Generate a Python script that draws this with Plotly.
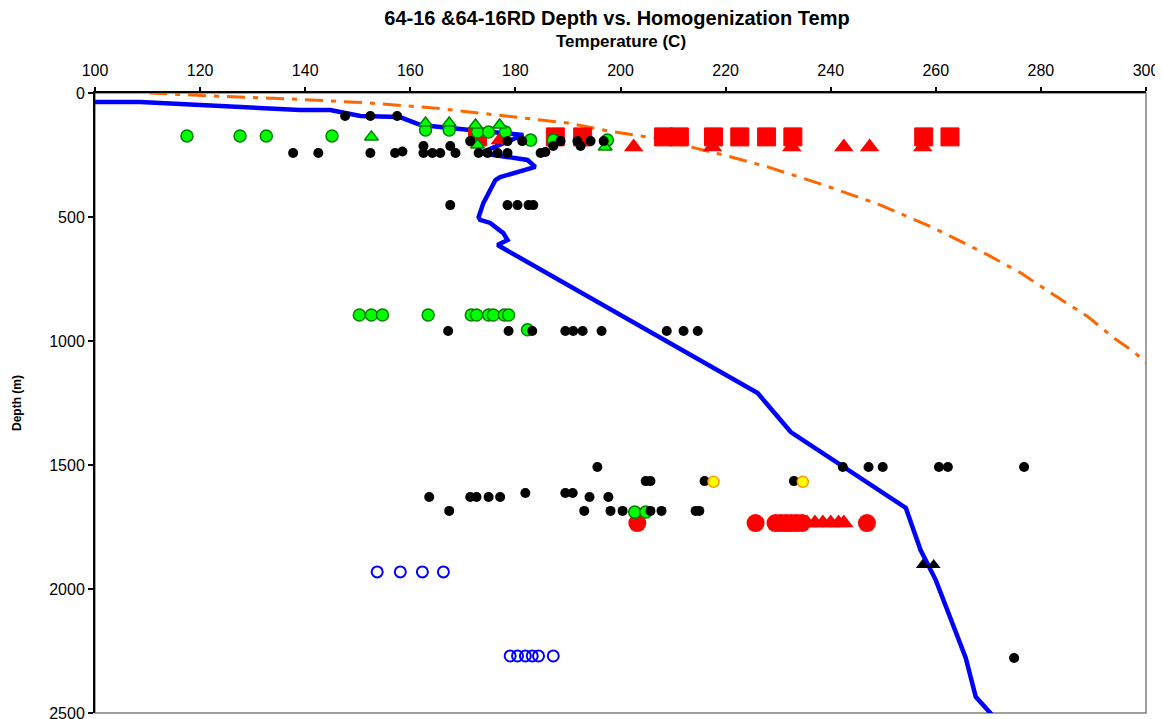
import plotly.graph_objects as go

# ---- data (temperature C, depth m) ----
profile_T = [98.7, 98.7, 108.6, 139.0, 144.8, 150.5, 158.0, 162.0, 171.4, 177.0, 181.5,
             173.3, 182.3, 183.8, 177.1, 176.2, 175.2, 173.9, 173.0, 173.3, 175.2, 177.7,
             178.5, 176.6, 226.1, 232.4, 254.3, 257.1, 260.0, 265.7, 267.6, 271.4]
profile_D = [0, 36, 36, 69, 69, 93, 97, 129, 149, 160, 169,
             242, 270, 298, 339, 351, 391, 444, 500, 512, 524, 565,
             593, 613, 1210, 1367, 1673, 1843, 1964, 2278, 2435, 2524]

boil_T = [110.3, 122.1, 137.3, 152.0, 164.4, 179.6, 189.9, 197.7, 206.3, 219.6, 228.0,
          238.7, 249.5, 259.6, 269.9, 276.2, 282.5, 289.0, 293.9, 297.7, 300.6]
boil_D = [0, 12, 24, 40, 60, 97, 121, 153, 181, 250, 298,
          371, 452, 544, 653, 726, 815, 903, 988, 1044, 1097]

black_T = [147.6, 152.4, 157.5,
           137.7, 142.5, 152.4, 157.1, 158.5, 162.5, 164.2, 165.7, 168.6, 173.0, 174.7, 176.6, 178.5, 184.8, 185.7,
           162.5, 167.6, 187.2, 192.4,
           171.4, 178.5, 181.3, 188.6, 191.8, 194.3, 196.8,
           167.6, 178.5, 180.4, 182.5, 183.4,
           167.2, 178.7, 183.2, 189.5, 191.0, 192.8, 196.4, 208.8, 212.0, 214.7,
           195.6, 242.3, 247.2, 249.9, 260.6, 262.3, 276.8,
           204.8, 205.7, 216.0, 233.0,
           181.9, 189.5, 190.9,
           163.6, 171.4, 172.6, 174.9, 177.1, 194.1, 197.7,
           167.4, 193.1, 198.1, 200.4, 205.7, 207.8, 214.3, 215.0,
           274.9]
black_D = [93, 93, 93,
           242, 242, 242, 242, 236, 242, 242, 242, 242, 242, 242, 242, 242, 242, 238,
           214, 214, 214, 214,
           194, 194, 194, 194, 194, 194, 194,
           452, 452, 452, 452, 452,
           960, 960, 960, 960, 960, 960, 960, 960, 960, 960,
           1508, 1508, 1508, 1508, 1508, 1508, 1508,
           1565, 1565, 1565, 1565,
           1613, 1613, 1613,
           1629, 1629, 1629, 1629, 1629, 1629, 1629,
           1685, 1685, 1685, 1685, 1685, 1685, 1685, 1685,
           2278]

green_circ_T = [117.5, 127.6, 132.6, 145.1, 162.9, 167.4, 172.8, 174.9, 178.1, 182.9, 187.2, 197.5,
                150.3, 152.6, 154.7, 163.4, 171.6, 172.6, 174.9, 175.8, 177.9, 178.7, 182.3,
                202.7, 204.8]
green_circ_D = [173, 173, 173, 173, 149, 149, 157, 157, 157, 190, 190, 190,
                895, 895, 895, 895, 895, 895, 895, 895, 895, 895, 955,
                1690, 1690]

green_tri_T = [152.6, 162.9, 167.4, 172.4, 177.0, 172.8, 197.1]
green_tri_D = [177, 121, 121, 129, 129, 210, 218]

red_sq_T = [172.8, 187.6, 192.8, 208.2, 211.2, 217.7, 222.7, 227.8, 232.8, 257.7, 262.7]
red_sq_D = [177, 177, 177, 177, 177, 177, 177, 177, 177, 177, 177]

red_tri_T = [177.1, 202.5, 217.5, 232.6, 242.5, 247.4, 257.5,
             235.5, 237.0, 238.5, 240.0, 241.5, 242.5]
red_tri_D = [190, 218, 218, 218, 218, 218, 218,
             1734, 1734, 1734, 1734, 1734, 1734]

red_circ_T = [203.2, 225.7, 229.5, 230.5, 231.5, 232.5, 233.5, 234.5, 246.9]
red_circ_D = [1734, 1734, 1734, 1734, 1734, 1734, 1734, 1734, 1734]

yellow_T = [217.7, 234.7]
yellow_D = [1568, 1568]

black_tri_T = [257.5, 259.6]
black_tri_D = [1903, 1903]

blue_open_T = [153.7, 158.1, 162.3, 166.3, 179.0, 180.4, 181.9, 183.2, 184.4, 187.2]
blue_open_D = [1931, 1931, 1931, 1931, 2270, 2270, 2270, 2270, 2270, 2270]

x_ticks = [100, 120, 140, 160, 180, 200, 220, 240, 260, 280, 300]
y_ticks = [0, 500, 1000, 1500, 2000, 2500]

FONT = "Liberation Sans, Arial, sans-serif"
# the page body has an 8px default margin; size the figure so the plot area lands in place
W, H = 1155, 711

fig = go.Figure()
fig.add_trace(go.Scatter(x=boil_T, y=boil_D, mode="lines",
                         line=dict(color="#FF6600", width=3, dash="18px,8px,5px,8px"),
                         showlegend=False, hoverinfo="skip"))
fig.add_trace(go.Scatter(x=profile_T, y=profile_D, mode="lines",
                         line=dict(color="#0000FF", width=4.5),
                         showlegend=False, hoverinfo="skip"))

def add_markers(x, y, symbol, size, color, line_color, line_width=1):
    fig.add_trace(go.Scatter(x=x, y=y, mode="markers", showlegend=False,
                             marker=dict(symbol=symbol, size=size, color=color,
                                         line=dict(color=line_color, width=line_width))))

add_markers(red_sq_T, red_sq_D, "square", 18, "#FF0000", "#FF0000", 1)
add_markers(red_circ_T, red_circ_D, "circle", 18, "#FF0000", "#FF0000", 0)
add_markers(red_tri_T, red_tri_D, "triangle-up", 17, "#FF0000", "#FF0000", 0)
add_markers(green_circ_T, green_circ_D, "circle", 12, "#00FF00", "#008000", 1.5)
add_markers(green_tri_T, green_tri_D, "triangle-up", 12, "#00FF00", "#008000", 1.5)
add_markers(black_T, black_D, "circle", 10, "#000000", "#000000", 0)
add_markers(yellow_T, yellow_D, "circle", 11, "#FFFF00", "#FF9900", 1.5)
add_markers(black_tri_T, black_tri_D, "triangle-up", 12, "#000000", "#000000", 0)
add_markers(blue_open_T, blue_open_D, "circle-open", 11, "#0000FF", "#0000FF", 2)

fig.update_layout(
    width=W, height=H,
    margin=dict(l=87, r=17, t=85, b=6, autoexpand=False),
    paper_bgcolor="white", plot_bgcolor="white",
    font=dict(family=FONT, color="black"),
    title=dict(text="<b>64-16 &64-16RD Depth vs. Homogenization Temp</b>",
               x=(617 - 8) / W, xanchor="center", yref="container", y=1 - 10 / H, yanchor="middle",
               font=dict(size=20, family=FONT, color="black")),
    xaxis=dict(side="top", range=[100, 300], tickvals=x_ticks, ticktext=[str(v) for v in x_ticks],
               showgrid=False, zeroline=False, showline=True, linecolor="black", linewidth=2,
               ticks="outside", ticklen=4, tickcolor="black", tickwidth=1.5,
               ticklabelstandoff=5, ticklabeloverflow="allow", automargin=False,
               tickfont=dict(size=16, family=FONT, color="black")),
    yaxis=dict(range=[2500, 0], tickvals=y_ticks, ticktext=[str(v) for v in y_ticks],
               showgrid=False, zeroline=False, showline=True, linecolor="black", linewidth=2,
               ticks="outside", ticklen=5, tickcolor="black", tickwidth=1.5,
               ticklabeloverflow="allow", automargin=False,
               tickfont=dict(size=16, family=FONT, color="black")),
    shapes=[dict(type="rect", xref="paper", yref="paper", x0=0, x1=1, y0=0, y1=1,
                 line=dict(color="#808080", width=1.5), layer="below")],
    annotations=[
        dict(text="<b>Temperature (C)</b>", xref="paper", yref="paper",
             x=(621 - 95) / 1051, y=1 + (93 - 42) / 620, xanchor="center", yanchor="middle",
             showarrow=False, font=dict(size=17, family=FONT, color="black")),
        dict(text="<b>Depth (m)</b>", xref="paper", yref="paper", textangle=-90,
             x=(17 - 95) / 1051, y=0.5, xanchor="center", yanchor="middle",
             showarrow=False, font=dict(size=12, family=FONT, color="black")),
    ],
)

fig.write_html("out.html")
